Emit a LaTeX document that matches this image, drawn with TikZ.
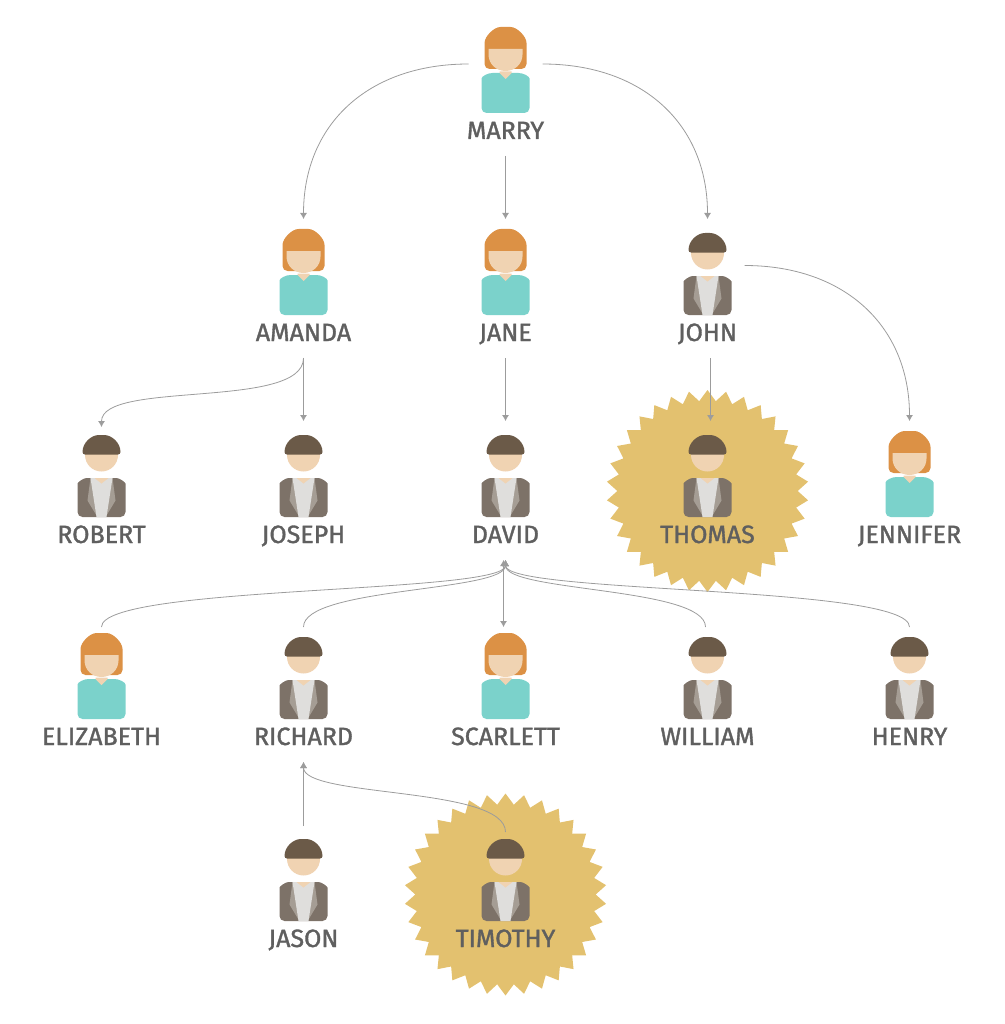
\documentclass[tikz,border=0pt]{standalone}
\usepackage{fontspec}
\setmainfont[FakeBold=1.4]{Fira Sans}
\usetikzlibrary{shapes.geometric,arrows.meta}
\definecolor{hairw}{HTML}{DC9145}
\definecolor{hairm}{HTML}{6B5A48}
\definecolor{skin}{HTML}{F0D3B2}
\definecolor{teal}{HTML}{7BD2CB}
\definecolor{suit}{HTML}{7D7268}
\definecolor{lapel}{HTML}{A59D94}
\definecolor{shirt}{HTML}{DFDEDC}
\definecolor{gold}{HTML}{E3C16F}
\definecolor{ink}{HTML}{5F5F5F}
\definecolor{wire}{HTML}{9C9C9C}
\tikzset{
  personbox/.style={minimum width=74pt,minimum height=139pt,inner sep=0pt,outer sep=0pt},
  namelabel/.style={text=ink,font=\fontsize{25}{25}\selectfont,inner sep=0pt,anchor=base},
  burst/.style={star,star points=34,star point ratio=1.12,minimum size=202pt,inner sep=0pt,outer sep=0pt,fill=gold},
  link/.style={draw=wire,line width=0.8pt,-{Latex[length=6pt,width=7pt]}},
  twolink/.style={draw=wire,line width=0.8pt,{Latex[length=6pt,width=7pt]}-{Latex[length=6pt,width=7pt]}},
}
% origin of each icon: centre of the person box
\newcommand{\womanicon}{%
  \fill[hairw,rounded corners=5pt] (-21,-17.5) -- (-21,-38.5) .. controls (-21,-50) and (-11.6,-59.5) .. (0,-59.5) .. controls (11.6,-59.5) and (21,-50) .. (21,-38.5) -- (21,-17.5) -- cycle;
  \fill[skin] (-17,-37.5) -- (17,-37.5) -- (17,-32) .. controls (17,-22.6) and (9.4,-15.5) .. (0,-15.5) .. controls (-9.4,-15.5) and (-17,-22.6) .. (-17,-32) -- cycle;
  \fill[teal,rounded corners=5pt] (-24,26.5) -- (-24,-3) .. controls (-24,-10) and (-18,-13.5) .. (-8,-13.5) -- (8,-13.5) .. controls (18,-13.5) and (24,-10) .. (24,-3) -- (24,26.5) -- cycle;
  \fill[skin] (-6,-15) -- (6,-15) -- (6,-13.5) -- (0,-7.5) -- (-6,-13.5) -- cycle;
}
\newcommand{\manicon}{%
  \fill[skin] (0,-35.5) circle[radius=16.5];
  \fill[hairm,rounded corners=2.5pt] (-19,-36) .. controls (-19,-48) and (-10,-55.5) .. (0,-55.5) .. controls (10,-55.5) and (19,-48) .. (19,-36) -- cycle;
  \fill[suit,rounded corners=5pt] (-24,26.5) -- (-24,-2) .. controls (-24,-8) and (-18,-12.5) .. (-10,-12.5) -- (10,-12.5) .. controls (18,-12.5) and (24,-8) .. (24,-2) -- (24,26.5) -- cycle;
  \fill[lapel] (-11,-12.5) -- (-14,10) -- (-5,25) -- (-4,-12.5) -- cycle;
  \fill[lapel] (11,-12.5) -- (14,10) -- (5,25) -- (4,-12.5) -- cycle;
  \fill[shirt] (-11,-12.5) -- (11,-12.5) -- (5,26.5) -- (-5,26.5) -- cycle;
  \fill[skin] (-7,-12.5) -- (7,-12.5) -- (0,-7) -- cycle;
}
% name, x, y, text, icon
\newcommand{\person}[5]{%
  \node[personbox] (#1) at (#2,#3) {};
  \begin{scope}[shift={(#2,#3)}]#5\end{scope}
  \node[namelabel] (#1-label) at (#2,#3+52.5) {#4};
}
\begin{document}
\begin{tikzpicture}[x=1pt,y=-1pt]
\useasboundingbox (0,0) rectangle (1004,1024);
\node[burst] (thomas-burst) at (707.5,491) {};
\node[burst] (timothy-burst) at (505.5,894.5) {};

\person{marry}{505.5}{86.5}{MARRY}{\womanicon}
\person{amanda}{303.5}{288.5}{AMANDA}{\womanicon}
\person{jane}{505.5}{288.5}{JANE}{\womanicon}
\person{john}{707.5}{288.5}{JOHN}{\manicon}
\person{robert}{101.5}{490.5}{ROBERT}{\manicon}
\person{joseph}{303.5}{490.5}{JOSEPH}{\manicon}
\person{david}{505.5}{490.5}{DAVID}{\manicon}
\person{thomas}{707.5}{490.5}{THOMAS}{\manicon}
\person{jennifer}{909.5}{490.5}{JENNIFER}{\womanicon}
\person{elizabeth}{101.5}{692.5}{ELIZABETH}{\womanicon}
\person{richard}{303.5}{692.5}{RICHARD}{\manicon}
\person{scarlett}{505.5}{692.5}{SCARLETT}{\womanicon}
\person{william}{707.5}{692.5}{WILLIAM}{\manicon}
\person{henry}{909.5}{692.5}{HENRY}{\manicon}
\person{jason}{303.5}{894.5}{JASON}{\manicon}
\person{timothy}{505.5}{894.5}{TIMOTHY}{\manicon}

\draw[link] ([yshift=22.5pt]marry.west) .. controls +(-100,0) and ([yshift=95pt]amanda.north) .. (amanda.north);
\draw[link] ([yshift=22.5pt]marry.east) .. controls +(100,0) and ([yshift=95pt]john.north) .. (john.north);
\draw[link] (marry.south) -- (jane.north);
\draw[link] ([yshift=23pt]john.east) .. controls +(100,0) and ([yshift=95pt]jennifer.north) .. (jennifer.north);
\draw[link] (amanda.south) .. controls +(0,52) and ([yshift=41pt]robert.north) .. ([yshift=-6pt]robert.north);
\draw[link] (amanda.south) -- (joseph.north);
\draw[link] (jane.south) -- (david.north);
\draw[link] ([xshift=3pt]john.south) -- ([xshift=3pt]thomas.north);
\draw[link] (elizabeth.north) ++(0,4) .. controls +(0,-42) and ([yshift=-34pt]david.south) .. (david.south);
\draw[link] (richard.north) ++(0,4) .. controls +(0,-40) and ([yshift=-32pt]david.south) .. (david.south);
\draw[link] (william.north) ++(-2,4) .. controls +(0,-40) and ([yshift=-32pt]david.south) .. (david.south);
\draw[link] (henry.north) ++(0,4) .. controls +(0,-42) and ([yshift=-34pt]david.south) .. (david.south);
\draw[twolink] ([xshift=-2pt]david.south) -- ([xshift=-2pt,yshift=-4pt]scarlett.north);
\draw[link] (jason.north) ++(0,1) -- (richard.south);
\draw[link] ([yshift=-7pt]timothy.north) .. controls +(0,-46) and ([yshift=-36pt]richard.south) .. (richard.south);
\end{tikzpicture}
\end{document}
